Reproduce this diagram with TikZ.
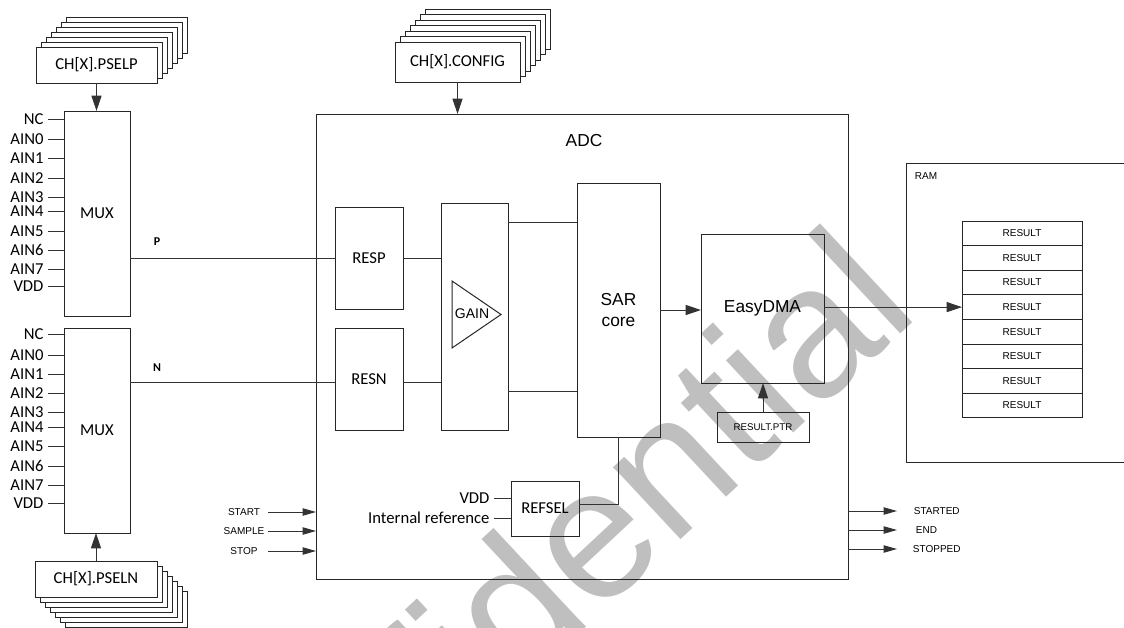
\documentclass[tikz,border=0pt]{standalone}
\usepackage{fontspec}
\setmainfont{Carlito}
\newfontfamily\arialf{Liberation Sans}
\usetikzlibrary{arrows.meta,fit}
\begin{document}
\begin{tikzpicture}[x=0.75pt,y=-0.75pt,
  line width=0.75pt,
  wire/.style={draw=black!80, line width=0.75pt},
  box/.style={draw=black!85, line width=0.75pt, inner sep=0pt, outer sep=0pt},
  cal/.style={font=\fontsize{12.5}{14}\selectfont},
  bigtxt/.style={font=\arialf\fontsize{13}{15.5}\selectfont},
  smalltxt/.style={font=\arialf\fontsize{7.5}{9}\selectfont},
  lbl/.style={cal, inner xsep=3pt, inner ysep=0pt, anchor=east},
  arrb/.style={wire, -{Triangle[length=11.5pt,width=7.5pt]}},
  arrs/.style={wire, -{Triangle[length=10pt,width=5.5pt]}},
]
\useasboundingbox (0,0) rectangle (1124,628);
\clip (0,0) rectangle (1124,628);

% watermark
\node[font=\arialf\fontsize{140}{144}\selectfont, text=black!25, rotate=43,
      anchor=base east, inner sep=0pt] (wm) at (922,314) {Confidential};

% ---- CH[X].PSELP stack ----
\foreach \k in {6,5,...,1}
  \draw[box, fill=white] ({36+5*\k},{47-5*\k}) rectangle ({157+5*\k},{83-5*\k});
\node[box, fill=white, cal, fit={(36,47) (157,83)}] (pselp) {};
\node[cal] at (pselp.center) {CH[X].PSELP};

% ---- CH[X].PSELN stack ----
\foreach \k in {6,5,...,1}
  \draw[box, fill=white] ({35+5*\k},{561+5*\k}) rectangle ({157+5*\k},{597+5*\k});
\node[box, fill=white, cal, fit={(35,561) (157,597)}] (pseln) {};
\node[cal] at (pseln.center) {CH[X].PSELN};

% ---- CH[X].CONFIG stack ----
\foreach \k in {6,5,...,1}
  \draw[box, fill=white] ({395+5*\k},{42-5.5*\k}) rectangle ({520+5*\k},{82-5.5*\k});
\node[box, fill=white, cal, fit={(395,42) (520,82)}] (config) {};
\node[cal] at (config.center) {CH[X].CONFIG};

% ---- MUX boxes ----
\node[box, fit={(64,111) (130,316)}] (muxp) {};
\node[cal] at (muxp.center) {MUX};
\node[box, fit={(64,328) (130,533)}] (muxn) {};
\node[cal] at (muxn.center) {MUX};

\foreach \t/\y in {NC/119, AIN0/139, AIN1/158, AIN2/178, AIN3/197, AIN4/211, AIN5/231, AIN6/250, AIN7/269, VDD/286} {
  \node[lbl] (p\t) at (48,\y) {\t};
  \draw[wire] (p\t.east) -- (p\t.east -| muxp.west);
}
\foreach \t/\y in {NC/334, AIN0/355, AIN1/374, AIN2/393, AIN3/412, AIN4/427, AIN5/446, AIN6/466, AIN7/485, VDD/503} {
  \node[lbl] (n\t) at (48,\y) {\t};
  \draw[wire] (n\t.east) -- (n\t.east -| muxn.west);
}

\draw[arrb] (pselp.south) -- (pselp.south |- muxp.north);
\draw[arrb] (pseln.north) -- (pseln.north |- muxn.south);

% ---- ADC ----
\node[box, fit={(316,114) (848,579)}] (adc) {};
\node[bigtxt] (adclbl) at (584,141) {ADC};
\draw[arrb] (config.south) -- (config.south |- adc.north);

\node[box, cal, fit={(335,207) (403,309)}] (resp) {};
\node[cal] at (resp.center) {RESP};
\node[box, cal, fit={(335,328) (403,430)}] (resn) {};
\node[cal] at (resn.center) {RESN};
\node[box, fit={(441,203) (508,430)}] (gain) {};
\draw[box] (452,281) -- (452,348) -- (501,314.5) -- cycle;
\node[font=\arialf\fontsize{10.5}{12}\selectfont, inner sep=0pt] (gainlbl) at (472,314) {GAIN};
\node[box, fit={(577,183) (660,437)}] (sar) {};
\node[bigtxt, align=center] at (sar.center) {SAR\\core};
\node[box, fit={(701,234) (824,383)}] (dma) {};
\node[bigtxt] at (dma.center) {EasyDMA};
\node[box, fit={(717,412) (809,442)}] (ptr) {};
\node[font=\arialf\fontsize{7.3}{9}\selectfont] at (ptr.center) {RESULT.PTR};
\node[box, fit={(511,481) (579,536)}] (refsel) {};
\node[cal] at (refsel.center) {REFSEL};

% P / N signal lines
\node[font=\bfseries\fontsize{9}{10}\selectfont] (plbl) at (157,242) {P};
\node[font=\bfseries\fontsize{9}{10}\selectfont] (nlbl) at (157,368) {N};
\draw[wire] (resp.west -| muxp.east) -- (resp.west);
\coordinate (nl) at (0,382);
\draw[wire] (muxn.east |- nl) -- (resn.west |- nl);
\draw[wire] (resp.east) -- (resp.east -| gain.west);
\draw[wire] (resn.east |- nl) -- (gain.west |- nl);
\coordinate (gt) at (0,222);
\coordinate (gb) at (0,391);
\draw[wire] (gain.east |- gt) -- (sar.west |- gt);
\draw[wire] (gain.east |- gb) -- (sar.west |- gb);
\coordinate (sd) at (0,310);
\draw[arrb] (sar.east |- sd) -- (dma.west |- sd);
\draw[arrb] (ptr.north) -- (ptr.north |- dma.south);
\draw[wire] ([shift={(0,-4.5)}]refsel.east) -| (sar.south);

\node[lbl] (vddr) at (494,498) {VDD};
\node[lbl] (intref) at (494,518) {Internal reference};
\draw[wire] (vddr.east) -- (vddr.east -| refsel.west);
\draw[wire] (intref.east) -- (intref.east -| refsel.west);

% tasks in
\node[smalltxt] (lstart) at (244,512) {START};
\node[smalltxt] (lsample) at (244,531) {SAMPLE};
\node[smalltxt] (lstop) at (244,551) {STOP};
\coordinate (i1) at (268,512);
\coordinate (i2) at (268,531);
\coordinate (i3) at (268,551);
\draw[arrs] (i1) -- (i1 -| adc.west);
\draw[arrs] (i2) -- (i2 -| adc.west);
\draw[arrs] (i3) -- (i3 -| adc.west);

% events out
\coordinate (o1) at (897,511);
\coordinate (o2) at (897,530);
\coordinate (o3) at (897,549);
\draw[arrs] (o1 -| adc.east) -- (o1);
\draw[arrs] (o2 -| adc.east) -- (o2);
\draw[arrs] (o3 -| adc.east) -- (o3);
\node[smalltxt, anchor=west] (lstarted) at (909,511) {STARTED};
\node[smalltxt, anchor=west] (lend) at (911,530) {END};
\node[smalltxt, anchor=west] (lstopped) at (908,549) {STOPPED};

% RAM
\draw[box] (1124,163) -- (906,163) -- (906,462) -- (1124,462);
\node[smalltxt, anchor=west] (ramlbl) at (910,176) {RAM};
\foreach \i in {1,...,8}
  \node[box, smalltxt, minimum width=90pt, minimum height=18.45pt] (r\i) at (1022,{221+24.6*(\i-0.5)}) {RESULT};
\draw[arrb] (r4.west -| dma.east) -- (r4.west);
\end{tikzpicture}
\end{document}
